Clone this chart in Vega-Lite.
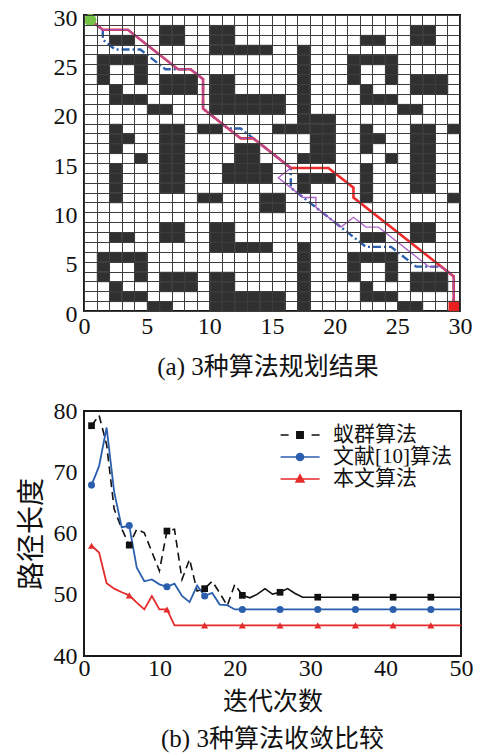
{
  "$schema": "https://vega.github.io/schema/vega-lite/v6.json",
  "background": "white",
  "padding": {"left": 17, "top": 5, "right": 0, "bottom": 0},
  "spacing": 17,
  "config": {
    "view": {"stroke": "#1a1a1a", "strokeWidth": 2},
    "axis": {"domain": false, "ticks": false, "labelFont": "Liberation Serif", "labelFontSize": 24, "labelColor": "#111", "titleFont": "Liberation Serif, Noto Sans CJK SC", "titleFontWeight": "normal", "titleColor": "#111", "grid": false},
    "title": {"font": "Liberation Serif, Noto Sans CJK SC", "fontSize": 25, "fontWeight": "normal", "color": "#111"}
  },
  "datasets": {
    "cells": [
      {"x":6,"y":28},{"x":7,"y":28},{"x":10,"y":28},{"x":11,"y":28},{"x":26,"y":28},{"x":27,"y":28},
      {"x":2,"y":27},{"x":3,"y":27},{"x":6,"y":27},{"x":7,"y":27},{"x":10,"y":27},{"x":11,"y":27},{"x":22,"y":27},{"x":23,"y":27},{"x":26,"y":27},{"x":27,"y":27},
      {"x":10,"y":26},{"x":11,"y":26},{"x":12,"y":26},{"x":13,"y":26},{"x":14,"y":26},{"x":17,"y":26},
      {"x":1,"y":25},{"x":2,"y":25},{"x":3,"y":25},{"x":4,"y":25},{"x":17,"y":25},{"x":21,"y":25},{"x":22,"y":25},{"x":23,"y":25},{"x":24,"y":25},
      {"x":1,"y":24},{"x":4,"y":24},{"x":17,"y":24},{"x":21,"y":24},{"x":24,"y":24},
      {"x":1,"y":23},{"x":4,"y":23},{"x":6,"y":23},{"x":7,"y":23},{"x":8,"y":23},{"x":10,"y":23},{"x":11,"y":23},{"x":17,"y":23},{"x":21,"y":23},{"x":24,"y":23},{"x":26,"y":23},{"x":27,"y":23},{"x":28,"y":23},
      {"x":2,"y":22},{"x":6,"y":22},{"x":7,"y":22},{"x":8,"y":22},{"x":10,"y":22},{"x":11,"y":22},{"x":17,"y":22},{"x":22,"y":22},{"x":26,"y":22},{"x":27,"y":22},{"x":28,"y":22},
      {"x":2,"y":21},{"x":3,"y":21},{"x":4,"y":21},{"x":10,"y":21},{"x":11,"y":21},{"x":12,"y":21},{"x":13,"y":21},{"x":14,"y":21},{"x":15,"y":21},{"x":17,"y":21},{"x":22,"y":21},{"x":23,"y":21},{"x":24,"y":21},
      {"x":5,"y":20},{"x":6,"y":20},{"x":10,"y":20},{"x":11,"y":20},{"x":12,"y":20},{"x":13,"y":20},{"x":14,"y":20},{"x":15,"y":20},{"x":17,"y":20},{"x":25,"y":20},{"x":26,"y":20},
      {"x":17,"y":19},{"x":18,"y":19},{"x":19,"y":19},
      {"x":2,"y":18},{"x":6,"y":18},{"x":7,"y":18},{"x":9,"y":18},{"x":10,"y":18},{"x":15,"y":18},{"x":16,"y":18},{"x":17,"y":18},{"x":18,"y":18},{"x":19,"y":18},{"x":22,"y":18},{"x":26,"y":18},{"x":27,"y":18},{"x":29,"y":18},
      {"x":2,"y":17},{"x":3,"y":17},{"x":6,"y":17},{"x":7,"y":17},{"x":18,"y":17},{"x":19,"y":17},{"x":22,"y":17},{"x":23,"y":17},{"x":26,"y":17},{"x":27,"y":17},
      {"x":2,"y":16},{"x":6,"y":16},{"x":7,"y":16},{"x":12,"y":16},{"x":13,"y":16},{"x":18,"y":16},{"x":19,"y":16},{"x":22,"y":16},{"x":26,"y":16},{"x":27,"y":16},
      {"x":4,"y":15},{"x":6,"y":15},{"x":7,"y":15},{"x":12,"y":15},{"x":13,"y":15},{"x":17,"y":15},{"x":18,"y":15},{"x":19,"y":15},{"x":24,"y":15},{"x":26,"y":15},{"x":27,"y":15},
      {"x":2,"y":14},{"x":6,"y":14},{"x":7,"y":14},{"x":11,"y":14},{"x":12,"y":14},{"x":13,"y":14},{"x":14,"y":14},{"x":22,"y":14},{"x":26,"y":14},{"x":27,"y":14},
      {"x":2,"y":13},{"x":6,"y":13},{"x":7,"y":13},{"x":11,"y":13},{"x":12,"y":13},{"x":13,"y":13},{"x":14,"y":13},{"x":17,"y":13},{"x":18,"y":13},{"x":19,"y":13},{"x":22,"y":13},{"x":26,"y":13},{"x":27,"y":13},
      {"x":2,"y":12},{"x":6,"y":12},{"x":7,"y":12},{"x":17,"y":12},{"x":22,"y":12},{"x":26,"y":12},{"x":27,"y":12},
      {"x":2,"y":11},{"x":9,"y":11},{"x":10,"y":11},{"x":14,"y":11},{"x":15,"y":11},{"x":22,"y":11},{"x":29,"y":11},
      {"x":14,"y":10},{"x":15,"y":10},
      {"x":6,"y":8},{"x":7,"y":8},{"x":10,"y":8},{"x":11,"y":8},{"x":26,"y":8},{"x":27,"y":8},
      {"x":2,"y":7},{"x":3,"y":7},{"x":6,"y":7},{"x":7,"y":7},{"x":10,"y":7},{"x":11,"y":7},{"x":22,"y":7},{"x":23,"y":7},{"x":26,"y":7},{"x":27,"y":7},
      {"x":10,"y":6},{"x":11,"y":6},{"x":12,"y":6},{"x":13,"y":6},{"x":14,"y":6},{"x":17,"y":6},
      {"x":1,"y":5},{"x":2,"y":5},{"x":3,"y":5},{"x":4,"y":5},{"x":17,"y":5},{"x":21,"y":5},{"x":22,"y":5},{"x":23,"y":5},{"x":24,"y":5},
      {"x":1,"y":4},{"x":4,"y":4},{"x":17,"y":4},{"x":21,"y":4},{"x":24,"y":4},
      {"x":1,"y":3},{"x":4,"y":3},{"x":6,"y":3},{"x":7,"y":3},{"x":8,"y":3},{"x":10,"y":3},{"x":11,"y":3},{"x":17,"y":3},{"x":21,"y":3},{"x":24,"y":3},{"x":26,"y":3},{"x":27,"y":3},{"x":28,"y":3},
      {"x":2,"y":2},{"x":6,"y":2},{"x":7,"y":2},{"x":8,"y":2},{"x":10,"y":2},{"x":11,"y":2},{"x":17,"y":2},{"x":22,"y":2},{"x":26,"y":2},{"x":27,"y":2},{"x":28,"y":2},
      {"x":2,"y":1},{"x":3,"y":1},{"x":4,"y":1},{"x":10,"y":1},{"x":11,"y":1},{"x":12,"y":1},{"x":13,"y":1},{"x":14,"y":1},{"x":15,"y":1},{"x":17,"y":1},{"x":22,"y":1},{"x":23,"y":1},{"x":24,"y":1},
      {"x":5,"y":0},{"x":6,"y":0},{"x":10,"y":0},{"x":11,"y":0},{"x":12,"y":0},{"x":13,"y":0},{"x":14,"y":0},{"x":15,"y":0},{"x":17,"y":0},{"x":25,"y":0},{"x":26,"y":0}
    ],
    "paths": [
      {"p":"blue","i":0,"x":0.5,"y":29.5},{"p":"blue","i":1,"x":1.5,"y":28.5},{"p":"blue","i":2,"x":1.5,"y":27.5},{"p":"blue","i":3,"x":2.5,"y":26.5},{"p":"blue","i":4,"x":4.5,"y":26.5},{"p":"blue","i":5,"x":6.5,"y":24.5},{"p":"blue","i":6,"x":7.5,"y":24.5},{"p":"blue","i":7,"x":8.5,"y":24.5},{"p":"blue","i":8,"x":9.5,"y":23.5},{"p":"blue","i":9,"x":9.5,"y":20.5},{"p":"blue","i":10,"x":11.5,"y":18.5},{"p":"blue","i":11,"x":12.5,"y":18.5},{"p":"blue","i":12,"x":13.5,"y":17.5},{"p":"blue","i":13,"x":16.5,"y":14.5},{"p":"blue","i":14,"x":16.5,"y":12.5},{"p":"blue","i":15,"x":18.5,"y":10.5},{"p":"blue","i":16,"x":20.5,"y":8.5},{"p":"blue","i":17,"x":22.5,"y":6.5},{"p":"blue","i":18,"x":24.5,"y":6.5},{"p":"blue","i":19,"x":26.5,"y":4.5},{"p":"blue","i":20,"x":28.5,"y":4.5},{"p":"blue","i":21,"x":29.5,"y":3.5},{"p":"blue","i":22,"x":29.5,"y":0.5},
      {"p":"red","i":0,"x":0.5,"y":29.5},{"p":"red","i":1,"x":1.5,"y":28.5},{"p":"red","i":2,"x":3.5,"y":28.5},{"p":"red","i":3,"x":7.5,"y":24.5},{"p":"red","i":4,"x":8.5,"y":24.5},{"p":"red","i":5,"x":9.5,"y":23.5},{"p":"red","i":6,"x":9.5,"y":20.5},{"p":"red","i":7,"x":11.5,"y":18.5},{"p":"red","i":8,"x":12.5,"y":17.5},{"p":"red","i":9,"x":13.5,"y":17.5},{"p":"red","i":10,"x":16.5,"y":14.5},{"p":"red","i":11,"x":19.5,"y":14.5},{"p":"red","i":12,"x":21.5,"y":12.5},{"p":"red","i":13,"x":21.5,"y":11.5},{"p":"red","i":14,"x":29.5,"y":3.5},{"p":"red","i":15,"x":29.5,"y":0.5},
      {"p":"purple","i":0,"x":0.5,"y":29.5},{"p":"purple","i":1,"x":1.5,"y":28.5},{"p":"purple","i":2,"x":3.5,"y":28.5},{"p":"purple","i":3,"x":7.5,"y":24.5},{"p":"purple","i":4,"x":8.5,"y":24.5},{"p":"purple","i":5,"x":9.5,"y":23.5},{"p":"purple","i":6,"x":9.5,"y":20.5},{"p":"purple","i":7,"x":11.5,"y":18.5},{"p":"purple","i":8,"x":12.5,"y":17.5},{"p":"purple","i":9,"x":13.5,"y":17.5},{"p":"purple","i":10,"x":16.5,"y":14.5},{"p":"purple","i":11,"x":15.5,"y":13.5},{"p":"purple","i":12,"x":16.5,"y":12.5},{"p":"purple","i":13,"x":17.5,"y":11.5},{"p":"purple","i":14,"x":18.5,"y":11.5},{"p":"purple","i":15,"x":18.5,"y":10.5},{"p":"purple","i":16,"x":20.5,"y":8.5},{"p":"purple","i":17,"x":21.5,"y":9.5},{"p":"purple","i":18,"x":22.5,"y":8.5},{"p":"purple","i":19,"x":23.5,"y":8.5},{"p":"purple","i":20,"x":27.5,"y":4.5},{"p":"purple","i":21,"x":28.5,"y":4.5},{"p":"purple","i":22,"x":29.5,"y":3.5},{"p":"purple","i":23,"x":29.5,"y":0.5}
    ],
    "ends": [
      {"k":"start","x":0.5,"y":29.5},
      {"k":"end","x":29.5,"y":0.5}
    ],
    "conv": [
      {"s":"蚁群算法","x":1,"y":77.6},{"s":"蚁群算法","x":2,"y":79.3},{"s":"蚁群算法","x":3,"y":74.5},{"s":"蚁群算法","x":4,"y":64.0},{"s":"蚁群算法","x":5,"y":60.8},{"s":"蚁群算法","x":6,"y":58.1},{"s":"蚁群算法","x":7,"y":60.7},{"s":"蚁群算法","x":8,"y":60.1},{"s":"蚁群算法","x":9,"y":57.0},{"s":"蚁群算法","x":10,"y":53.9},{"s":"蚁群算法","x":11,"y":60.4},{"s":"蚁群算法","x":12,"y":60.7},{"s":"蚁群算法","x":13,"y":52.5},{"s":"蚁群算法","x":14,"y":55.8},{"s":"蚁群算法","x":15,"y":50.6},{"s":"蚁群算法","x":16,"y":51.0},{"s":"蚁群算法","x":17,"y":52.2},{"s":"蚁群算法","x":18,"y":50.3},{"s":"蚁群算法","x":19,"y":48.2},{"s":"蚁群算法","x":20,"y":51.7},{"s":"蚁群算法","x":21,"y":49.9},{"s":"蚁群算法","x":22,"y":49.5},{"s":"蚁群算法","x":23,"y":50.1},{"s":"蚁群算法","x":24,"y":51.0},{"s":"蚁群算法","x":25,"y":50.1},{"s":"蚁群算法","x":26,"y":50.4},{"s":"蚁群算法","x":27,"y":51.0},{"s":"蚁群算法","x":28,"y":50.2},{"s":"蚁群算法","x":29,"y":49.6},{"s":"蚁群算法","x":30,"y":49.6},{"s":"蚁群算法","x":31,"y":49.6},{"s":"蚁群算法","x":36,"y":49.6},{"s":"蚁群算法","x":41,"y":49.6},{"s":"蚁群算法","x":46,"y":49.6},{"s":"蚁群算法","x":50,"y":49.6},
      {"s":"文献[10]算法","x":1,"y":67.9},{"s":"文献[10]算法","x":2,"y":71.0},{"s":"文献[10]算法","x":3,"y":77.3},{"s":"文献[10]算法","x":4,"y":66.8},{"s":"文献[10]算法","x":5,"y":61.0},{"s":"文献[10]算法","x":6,"y":61.3},{"s":"文献[10]算法","x":7,"y":54.4},{"s":"文献[10]算法","x":8,"y":52.2},{"s":"文献[10]算法","x":9,"y":52.5},{"s":"文献[10]算法","x":10,"y":51.7},{"s":"文献[10]算法","x":11,"y":51.3},{"s":"文献[10]算法","x":12,"y":51.8},{"s":"文献[10]算法","x":13,"y":49.8},{"s":"文献[10]算法","x":14,"y":48.8},{"s":"文献[10]算法","x":15,"y":51.5},{"s":"文献[10]算法","x":16,"y":49.8},{"s":"文献[10]算法","x":17,"y":50.3},{"s":"文献[10]算法","x":18,"y":48.4},{"s":"文献[10]算法","x":19,"y":48.3},{"s":"文献[10]算法","x":20,"y":47.6},{"s":"文献[10]算法","x":21,"y":47.6},{"s":"文献[10]算法","x":26,"y":47.6},{"s":"文献[10]算法","x":31,"y":47.6},{"s":"文献[10]算法","x":36,"y":47.6},{"s":"文献[10]算法","x":41,"y":47.6},{"s":"文献[10]算法","x":46,"y":47.6},{"s":"文献[10]算法","x":50,"y":47.6},
      {"s":"本文算法","x":1,"y":58.0},{"s":"本文算法","x":2,"y":56.9},{"s":"本文算法","x":3,"y":51.9},{"s":"本文算法","x":4,"y":51.0},{"s":"本文算法","x":5,"y":50.4},{"s":"本文算法","x":6,"y":49.9},{"s":"本文算法","x":7,"y":48.7},{"s":"本文算法","x":8,"y":47.6},{"s":"本文算法","x":9,"y":49.8},{"s":"本文算法","x":10,"y":47.6},{"s":"本文算法","x":11,"y":47.6},{"s":"本文算法","x":12,"y":45.0},{"s":"本文算法","x":16,"y":45.0},{"s":"本文算法","x":21,"y":45.0},{"s":"本文算法","x":26,"y":45.0},{"s":"本文算法","x":31,"y":45.0},{"s":"本文算法","x":36,"y":45.0},{"s":"本文算法","x":41,"y":45.0},{"s":"本文算法","x":46,"y":45.0},{"s":"本文算法","x":50,"y":45.0}
    ]
  },
  "vconcat": [
    {
      "width": 376,
      "height": 296,
      "title": {"text": "(a)  3种算法规划结果", "orient": "bottom", "offset": 17, "dx": -4},
      "encoding": {
        "x": {"field": "x", "type": "quantitative", "scale": {"domain": [0, 30], "nice": false, "zero": false},
              "axis": {"title": null, "values": [0,1,2,3,4,5,6,7,8,9,10,11,12,13,14,15,16,17,18,19,20,21,22,23,24,25,26,27,28,29,30], "labelExpr": "datum.value % 5 === 0 ? datum.label : ''", "grid": true, "gridColor": "#3c3c3c", "gridWidth": 1, "gridOpacity": 1, "labelPadding": 3, "labelOverlap": false, "labelFlush": false}},
        "y": {"field": "y", "type": "quantitative", "scale": {"domain": [0, 30], "nice": false, "zero": false},
              "axis": {"title": null, "values": [0,1,2,3,4,5,6,7,8,9,10,11,12,13,14,15,16,17,18,19,20,21,22,23,24,25,26,27,28,29,30], "labelExpr": "datum.value % 5 === 0 ? datum.label : ''", "grid": true, "gridColor": "#3c3c3c", "gridWidth": 1, "gridOpacity": 1, "labelPadding": 7, "labelOffset": 3, "labelOverlap": false, "labelFlush": false}}
      },
      "layer": [
        {
          "data": {"name": "cells"},
          "mark": {"type": "rect", "color": "#303030", "stroke": "#5a5a5a", "strokeWidth": 0.6, "binSpacing": 0},
          "encoding": {
            "x": {"field": "x", "type": "quantitative", "bin": {"binned": true, "step": 1}, "scale": {"domain": [0, 30], "nice": false, "zero": false},
                  "axis": {"title": null, "values": [0,1,2,3,4,5,6,7,8,9,10,11,12,13,14,15,16,17,18,19,20,21,22,23,24,25,26,27,28,29,30], "labelExpr": "datum.value % 5 === 0 ? datum.label : ''", "grid": true, "gridColor": "#3c3c3c", "gridWidth": 1, "gridOpacity": 1, "labelPadding": 3, "labelOverlap": false, "labelFlush": false}},
            "y": {"field": "y", "type": "quantitative", "bin": {"binned": true, "step": 1}, "scale": {"domain": [0, 30], "nice": false, "zero": false},
                  "axis": {"title": null, "values": [0,1,2,3,4,5,6,7,8,9,10,11,12,13,14,15,16,17,18,19,20,21,22,23,24,25,26,27,28,29,30], "labelExpr": "datum.value % 5 === 0 ? datum.label : ''", "grid": true, "gridColor": "#3c3c3c", "gridWidth": 1, "gridOpacity": 1, "labelPadding": 7, "labelOffset": 3, "labelOverlap": false, "labelFlush": false}}
          }
        },
        {
          "data": {"name": "paths"},
          "transform": [{"filter": "datum.p === 'blue'"}],
          "mark": {"type": "line", "color": "#2b5fae", "strokeWidth": 2.4, "strokeDash": [8, 3, 2, 3]},
          "encoding": {"order": {"field": "i", "type": "quantitative"}}
        },
        {
          "data": {"name": "paths"},
          "transform": [{"filter": "datum.p === 'red'"}],
          "mark": {"type": "line", "color": "#ee2a2a", "strokeWidth": 2.6},
          "encoding": {"order": {"field": "i", "type": "quantitative"}}
        },
        {
          "data": {"name": "paths"},
          "transform": [{"filter": "datum.p === 'purple'"}],
          "mark": {"type": "line", "color": "#a555c2", "strokeWidth": 1.4, "opacity": 0.9},
          "encoding": {"order": {"field": "i", "type": "quantitative"}}
        },
        {
          "data": {"name": "ends"},
          "transform": [{"filter": "datum.k === 'start'"}],
          "mark": {"type": "point", "shape": "circle", "filled": true, "color": "#74c146", "size": 150, "opacity": 1}
        },
        {
          "data": {"name": "ends"},
          "transform": [{"filter": "datum.k === 'end'"}],
          "mark": {"type": "point", "shape": "square", "filled": true, "color": "#e82020", "size": 110, "opacity": 1}
        }
      ]
    },
    {
      "width": 377,
      "height": 245,
      "data": {"name": "conv"},
      "title": {"text": "(b)  3种算法收敛比较", "orient": "bottom", "offset": 13},
      "encoding": {
        "x": {"field": "x", "type": "quantitative", "scale": {"domain": [0, 50], "nice": false},
              "axis": {"title": "迭代次数", "values": [0, 10, 20, 30, 40, 50], "labelPadding": 0, "titlePadding": 9, "titleFontSize": 25, "titleFont": "Noto Sans CJK SC", "labelFlush": false}},
        "y": {"field": "y", "type": "quantitative", "scale": {"domain": [40, 80], "nice": false, "zero": false},
              "axis": {"title": "路径长度", "values": [40, 50, 60, 70, 80], "labelPadding": 7, "titlePadding": 7, "titleFontSize": 28, "titleFont": "Noto Sans CJK SC", "labelFlush": false}}
      },
      "layer": [
        {
          "transform": [{"filter": "datum.s === '蚁群算法' && datum.x <= 21"}],
          "mark": {"type": "line", "color": "#111111", "strokeWidth": 1.6, "strokeDash": [8, 5]}
        },
        {
          "transform": [{"filter": "datum.s === '蚁群算法' && datum.x >= 21"}],
          "mark": {"type": "line", "color": "#111111", "strokeWidth": 1.6}
        },
        {
          "transform": [{"filter": "datum.s === '文献[10]算法'"}],
          "mark": {"type": "line", "color": "#2b5fae", "strokeWidth": 1.8}
        },
        {
          "transform": [{"filter": "datum.s === '本文算法'"}],
          "mark": {"type": "line", "color": "#e52b2b", "strokeWidth": 1.8}
        },
        {
          "transform": [{"filter": "datum.s === '蚁群算法' && datum.x % 5 === 1"}],
          "mark": {"type": "point", "shape": "square", "filled": true, "color": "#111111", "size": 45, "opacity": 1}
        },
        {
          "transform": [{"filter": "datum.s === '文献[10]算法' && datum.x % 5 === 1"}],
          "mark": {"type": "point", "shape": "circle", "filled": true, "color": "#2b5fae", "size": 50, "opacity": 1}
        },
        {
          "transform": [{"filter": "datum.s === '本文算法' && datum.x % 5 === 1"}],
          "mark": {"type": "point", "shape": "triangle-up", "filled": true, "color": "#e52b2b", "size": 50, "opacity": 1}
        },
        {
          "transform": [{"filter": "false"}],
          "mark": {"type": "point", "filled": true, "opacity": 1},
          "encoding": {
            "fill": {"field": "s", "type": "nominal",
                     "scale": {"domain": ["蚁群算法", "文献[10]算法", "本文算法"], "range": ["#111111", "#2b5fae", "#e52b2b"]},
                     "legend": {"title": null, "orient": "none", "legendX": 195, "legendY": 409.5, "symbolSize": 1600, "symbolStrokeWidth": 1.5, "clipHeight": 21, "rowPadding": 0, "labelOffset": 12, "labelFont": "Liberation Serif, Noto Sans CJK SC", "labelFontSize": 21, "labelColor": "#111", "padding": 0, "symbolOpacity": 1}},
            "stroke": {"field": "s", "type": "nominal",
                     "scale": {"domain": ["蚁群算法", "文献[10]算法", "本文算法"], "range": ["#111111", "#2b5fae", "#e52b2b"]},
                     "legend": {"title": null, "orient": "none", "legendX": 195, "legendY": 409.5, "symbolSize": 1600, "symbolStrokeWidth": 1.5, "clipHeight": 21, "rowPadding": 0, "labelOffset": 12, "labelFont": "Liberation Serif, Noto Sans CJK SC", "labelFontSize": 21, "labelColor": "#111", "padding": 0, "symbolOpacity": 1}},
            "shape": {"field": "s", "type": "nominal",
                     "scale": {"domain": ["蚁群算法", "文献[10]算法", "本文算法"], "range": [
                       "M-0.97,0H-0.57M0.58,0H0.98M-0.16,-0.16H0.16V0.16H-0.16Z",
                       "M-0.97,0H0.98M0.18,0A0.18,0.18,0,1,1,-0.18,0A0.18,0.18,0,1,1,0.18,0Z",
                       "M-0.97,0H0.98M0,-0.21L0.2,0.15L-0.2,0.15Z"]},
                     "legend": {"title": null, "orient": "none", "legendX": 195, "legendY": 409.5, "symbolSize": 1600, "symbolStrokeWidth": 1.5, "clipHeight": 21, "rowPadding": 0, "labelOffset": 12, "labelFont": "Liberation Serif, Noto Sans CJK SC", "labelFontSize": 21, "labelColor": "#111", "padding": 0, "symbolOpacity": 1}}
          }
        }
      ]
    }
  ]
}
